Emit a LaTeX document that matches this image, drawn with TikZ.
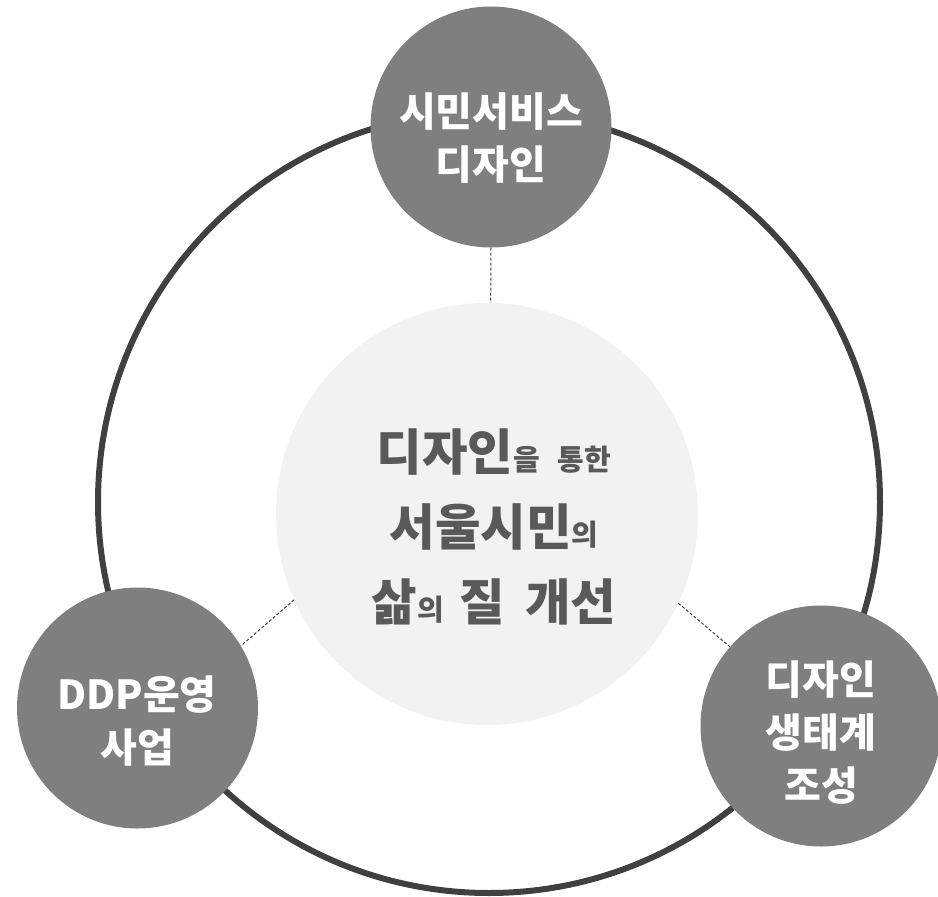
\documentclass[tikz,border=0pt]{standalone}
\usepackage{fontspec}
\newfontfamily\krfont{Noto Sans CJK KR}
\definecolor{ringc}{HTML}{404040}
\definecolor{satc}{HTML}{7F7F7F}
\definecolor{corec}{HTML}{F2F2F2}
\definecolor{txtc}{HTML}{595959}
\definecolor{dashc}{HTML}{404040}
\newcommand\smk[1]{{\fontsize{29}{75}\selectfont #1}}
\begin{document}
\begin{tikzpicture}[x=1pt,y=-1pt,
  sat/.style={circle, fill=satc, minimum size=241pt, inner sep=0pt},
  core/.style={circle, fill=corec, minimum size=422pt, inner sep=0pt},
  ringst/.style={circle, draw=ringc, line width=6pt, minimum size=782pt, inner sep=0pt},
  sattext/.style={text=white, font=\krfont\bfseries\fontsize{40}{53}\selectfont, align=center, inner sep=0pt},
  coretext/.style={text=txtc, font=\krfont\bfseries\fontsize{49.5}{75}\selectfont, align=center, inner sep=0pt},
  link/.style={draw=dashc, line width=1pt, dash pattern=on 3pt off 2pt}]
\useasboundingbox (0,0) rectangle (938,897);
\node[ringst] (ring) at (489,502) {};
\node[core] (core) at (487,514) {};
\node[sat] (top) at (491,127) {};
\node[sat] (left) at (137.5,708) {};
\node[sat] (right) at (821,726) {};
\draw[link] (top.south) -- (core.89);
\draw[link] (core.204) -- (left.31);
\draw[link] (core.-25) -- (right.139);
\node[sattext] (topT) at (491,138) {시민서비스\\디자인};
\node[sattext] (leftT) at (137,721) {DDP운영\\사업};
\node[sattext] (rightT) at (821,733) {디자인\\생태계\\조성};
\node[coretext] (coreT) at (494,527) {디자인\smk{을}\hspace{18pt}\smk{통한}\\서울시민\smk{의}\\삶\smk{의}\hspace{16pt}질\hspace{20pt}개선};
\end{tikzpicture}
\end{document}
